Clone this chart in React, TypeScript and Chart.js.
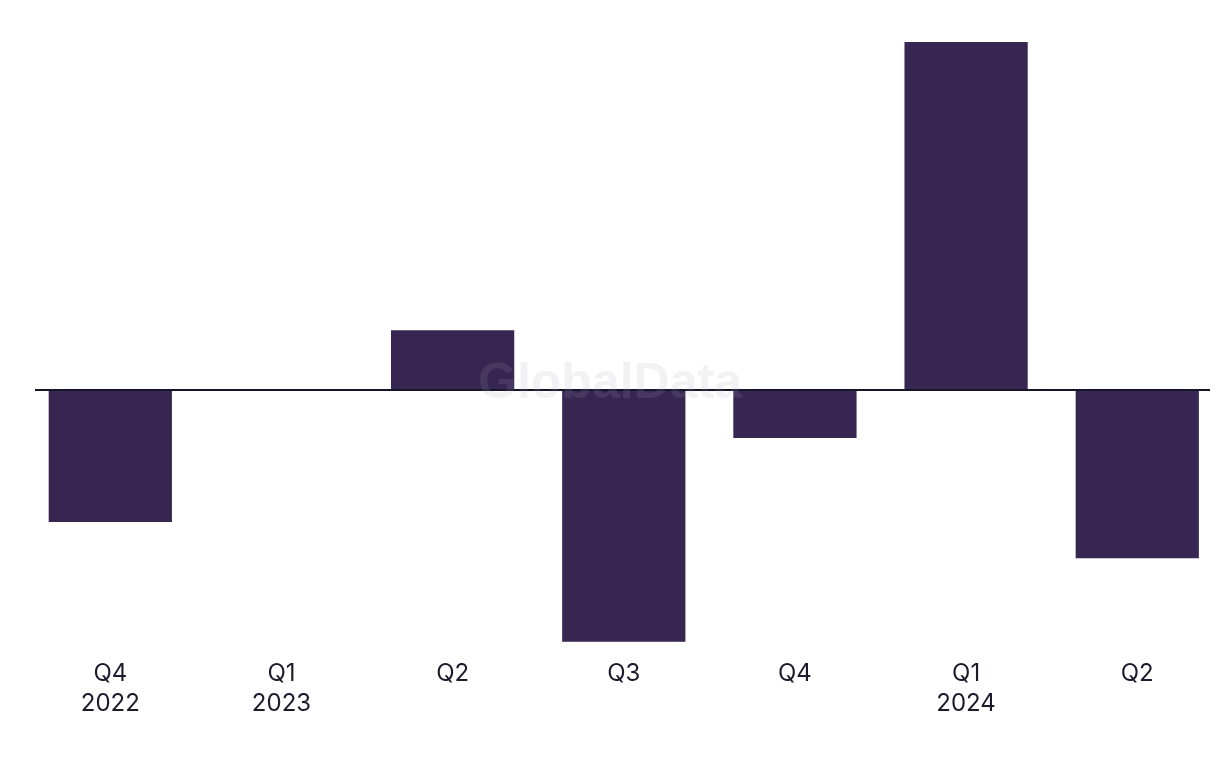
import React, { useEffect, useRef } from "react";
import { Chart, registerables } from "chart.js";

Chart.register(...registerables);

const categories: (string | string[])[] = [
  ["Q4", "2022"],
  ["Q1", "2023"],
  "Q2",
  "Q3",
  "Q4",
  ["Q1", "2024"],
  "Q2",
];
const values: number[] = [-37.9, 0, 17.2, -72.3, -13.8, 100, -48.3];

const BAR_COLOR = "#372552";
const TEXT_COLOR = "#1c1b2b";
const AXIS_COLOR = "#16152a";

const watermark = {
  id: "watermark",
  afterDatasetsDraw(chart: any) {
    const ctx = chart.ctx;
    ctx.save();
    ctx.font = "bold 50px 'Liberation Sans', Arial, sans-serif";
    ctx.fillStyle = "rgba(168,168,178,0.15)";
    ctx.textAlign = "center";
    ctx.textBaseline = "middle";
    ctx.fillText("GlobalData", chart.width / 2, chart.height / 2);
    ctx.restore();
  },
};

export default function App() {
  const ref = useRef<HTMLCanvasElement>(null);
  useEffect(() => {
    if (!ref.current) return;
    const chart = new Chart(ref.current, {
      type: "bar",
      data: {
        datasets: [
          {
            data: values.map((v, i) => ({ x: i, y: v })),
            backgroundColor: BAR_COLOR,
            borderWidth: 0,
            categoryPercentage: 0.8,
            barPercentage: 0.9,
          },
        ],
      },
      options: {
        animation: false,
        responsive: true,
        maintainAspectRatio: false,
        layout: { padding: { top: 42, left: 35, right: 10, bottom: 0 } },
        plugins: { legend: { display: false }, tooltip: { enabled: false } },
        scales: {
          x: {
            type: "linear",
            offset: false,
            bounds: "data",
            min: -0.44,
            max: 6.425,
            grid: { display: false, drawTicks: false },
            border: { display: false },
            afterBuildTicks: (scale: any) => {
              scale.ticks = categories.map((_, i) => ({ value: i }));
            },
            afterFit: (scale: any) => {
              scale.height = 119;
            },
            ticks: {
              autoSkip: false,
              maxRotation: 0,
              padding: 10,
              color: TEXT_COLOR,
              font: { family: "Inter, 'Noto Sans', sans-serif", size: 24, lineHeight: 1.25 },
              callback: (_v: any, index: number) => categories[index],
            },
          },
          y: {
            min: -74.4,
            max: 100,
            z: 1,
            border: { display: false },
            afterBuildTicks: (scale: any) => {
              scale.ticks = [{ value: 0 }];
            },
            afterFit: (scale: any) => {
              scale.width = 0;
            },
            grid: {
              drawTicks: false,
              color: AXIS_COLOR,
              lineWidth: 2,
            },
            ticks: { display: false },
          },
        },
      },
      plugins: [watermark],
    } as any);
    return () => chart.destroy();
  }, []);
  return (
    <div style={{ position: "fixed", left: 0, top: 0, width: 1220, height: 768, background: "#fff" }}>
      <canvas ref={ref} />
    </div>
  );
}
